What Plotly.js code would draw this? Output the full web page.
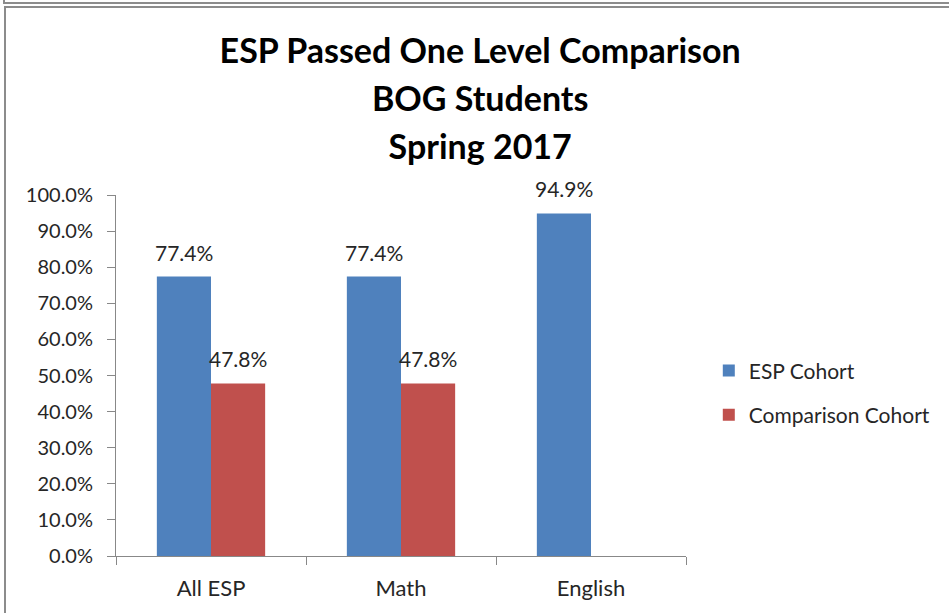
<!DOCTYPE html>
<html>
<head>
<meta charset="utf-8">
<script src="https://cdn.plot.ly/plotly-3.0.1.min.js"></script>
<style>
  body { margin: 0; overflow: hidden; background: #fff; }
  #wrap { position: relative; width: 949px; height: 613px; }
  #graph { position: absolute; left: 0; top: 0; width: 949px; height: 613px; }
  .rule { position: absolute; background: #8c8c8c; pointer-events: none; }
</style>
</head>
<body>
<div id="wrap">
  <div id="graph"></div>
  <!-- frame lines like the pasted Excel chart -->
  <div class="rule" style="left:3px; top:0px; width:2px; height:4px;"></div>
  <div class="rule" style="left:3px; top:2px; width:946px; height:2px;"></div>
  <div class="rule" style="left:4px; top:6px; width:945px; height:2px;"></div>
  <div class="rule" style="left:4px; top:6px; width:2px; height:607px;"></div>
</div>
<script>
// data
var categories = ['All ESP', 'Math', 'English']
var esp_cohort = [0.774, 0.774, 0.949]
var comparison_cohort = [0.478, 0.478, null]
var series_names = ['ESP Cohort', 'Comparison Cohort']

var blue = '#4F81BD'
var red = '#C0504D'
var txt = '#262626'
var fnt = 'Lato, "Open Sans", sans-serif'

//////////////////////////////////////////////////////////
// layout numbers
var W = 949, H = 613
var m = {l: 116, r: 263, t: 195, b: 57}
var bar_gap = 0.43
var bar_px = (W - m.l - m.r) / categories.length * (1 - bar_gap) / 2

var trace_esp = {
  type: 'bar',
  x: categories,
  y: esp_cohort,
  name: series_names[0],
  legendgroup: 'a',
  marker: {color: blue},
  hoverinfo: 'skip'
}
var trace_cmp = {
  type: 'bar',
  x: categories,
  y: comparison_cohort,
  name: series_names[1],
  legendgroup: 'b',
  marker: {color: red},
  hoverinfo: 'skip'
}

// data labels above each bar
var annots = []
function addLabels(vals, shift){
  for (var i = 0; i < vals.length; i++){
    if (vals[i] == null) continue
    annots.push({
      x: categories[i], y: vals[i], xref: 'x', yref: 'y',
      text: (vals[i] * 100).toFixed(1) + '%',
      showarrow: false, yanchor: 'bottom', xshift: shift, yshift: 10,
      font: {family: fnt, size: 21, color: txt}
    })
  }
}
addLabels(esp_cohort, -bar_px / 2)
addLabels(comparison_cohort, bar_px / 2)

var tsz = 34
var layout = {
  width: W,
  height: H,
  margin: m,
  paper_bgcolor: 'rgba(0,0,0,0)',
  plot_bgcolor: 'rgba(0,0,0,0)',
  font: {family: fnt, size: 20, color: txt},
  title: {
    text: '<span style="font-size:' + tsz + 'px">ESP Passed One Level Comparison</span><br>' +
          '<span style="font-size:' + tsz + 'px">BOG Students</span><br>' +
          '<span style="font-size:' + tsz + 'px">Spring 2017</span>',
    font: {family: fnt, size: 37, color: '#000', weight: 'bold'},
    x: 0.506, xanchor: 'center',
    y: 1 - 63 / H, yanchor: 'top', yref: 'container'
  },
  barmode: 'group',
  bargap: bar_gap,
  bargroupgap: 0,
  showlegend: true,
  legend: {
    x: 1.04, xanchor: 'left',
    y: 0.57, yanchor: 'top',
    traceorder: 'grouped',
    tracegroupgap: 14,
    font: {family: fnt, size: 21, color: txt},
    bgcolor: 'rgba(0,0,0,0)'
  },
  xaxis: {
    type: 'category',
    showline: true, linecolor: '#888', linewidth: 1,
    ticks: 'outside', tickson: 'boundaries', ticklen: 8, tickcolor: '#888',
    showgrid: false, zeroline: false,
    ticklabelstandoff: 13,
    tickfont: {family: fnt, size: 22, color: txt}
  },
  yaxis: {
    range: [0, 1],
    dtick: 0.1,
    tickformat: '.1%',
    showline: true, linecolor: '#888', linewidth: 1,
    ticks: 'outside', ticklen: 8, tickcolor: '#888',
    showgrid: false, zeroline: false,
    ticklabelstandoff: 10,
    tickfont: {family: fnt, size: 20, color: txt}
  },
  annotations: annots
}

Plotly.newPlot('graph', [trace_esp, trace_cmp], layout, {displayModeBar: false, staticPlot: true})
</script>
</body>
</html>
